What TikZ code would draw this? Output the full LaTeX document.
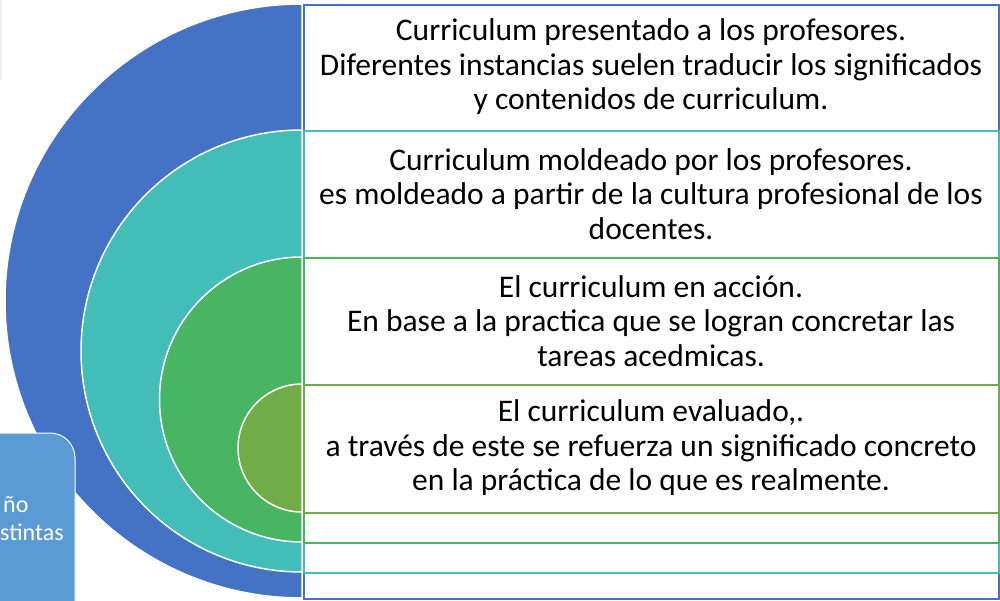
\documentclass[tikz,border=0pt]{standalone}
\usepackage{fontspec}
\setmainfont{Carlito}
\usepackage{tikz}
\usetikzlibrary{positioning, calc}

\definecolor{ringA}{HTML}{4472C4}
\definecolor{ringB}{HTML}{43BDB7}
\definecolor{ringC}{HTML}{48B563}
\definecolor{ringD}{HTML}{70AD47}
\definecolor{sidebox}{HTML}{5B9BD5}

\begin{document}
\begin{tikzpicture}[x=1pt, y=-1pt,
    ring/.style={draw=white, line width=1.5pt},
    band/.style={fill=white, line width=2pt, minimum width=695pt, anchor=north west, inner sep=0pt},
    label text/.style={font=\fontsize{31.5}{34.5}\selectfont, align=center, text=black},
    side text/.style={font=\fontsize{24}{27}\selectfont, text=white, anchor=west, inner sep=0pt}
]
    \clip (0, 0) rectangle (1000, 601);
    \fill[white] (0, 0) rectangle (1000, 601);
    \fill[black!6] (0, 0) rectangle (1.5, 80);

    % half rings and the boxes that go with them
    \foreach \cy/\r/\top/\bot/\col [count=\i] in {301/297/4/598/ringA, 351/221/130/572/ringB, 399.5/142.5/257/542/ringC, 448/64/384/512/ringD} {
        \filldraw[ring, fill=\col] (302, \cy) ++(0, -\r) arc (90:270:\r pt) -- cycle;
        \node[band, draw=\col, minimum height={(\bot-\top)*1pt}] (r\i) at (303, \top) {};
    }

    \node[label text] (t1) at (651, 67) {Curriculum presentado a los profesores.\\ Diferentes instancias suelen traducir los significados\\ y contenidos de curriculum.};
    \node[label text] (t2) at (651, 194) {Curriculum moldeado por los profesores.\\ es moldeado a partir de la cultura profesional de los\\ docentes.};
    \node[label text] (t3) at (651, 321) {El curriculum en acción.\\ En base a la practica que se logran concretar las\\ tareas acedmicas.};
    \node[label text] (t4) at (651, 448) {El curriculum evaluado,.\\ a través de este se refuerza un significado concreto\\ en la práctica de lo que es realmente.};

    % box cut off at the left edge
    \filldraw[fill=sidebox, draw=white, line width=1pt, rounded corners=25pt] (-40, 433) rectangle (75, 650);
    \node[side text] (s1) at (3, 505) {ño};
    \node[side text] (s2) at (0, 532) {stintas};
\end{tikzpicture}
\end{document}
